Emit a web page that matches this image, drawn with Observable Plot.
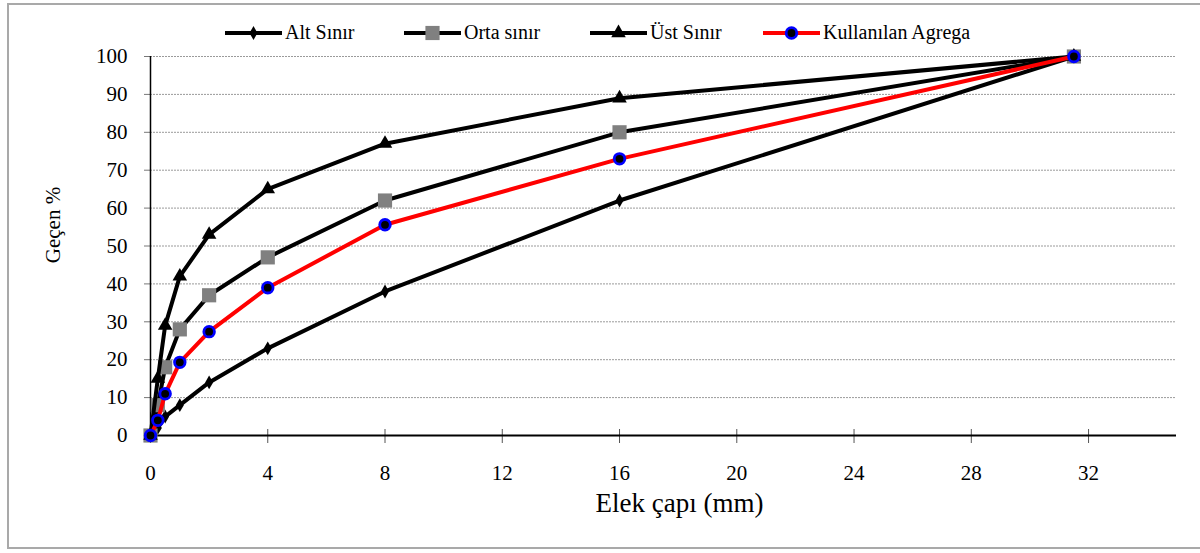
<!DOCTYPE html>
<html>
<head>
<meta charset="utf-8">
<script src="https://cdn.jsdelivr.net/npm/d3@7"></script>
<script src="https://cdn.jsdelivr.net/npm/@observablehq/plot@0.6"></script>
<style>
  html, body { margin: 0; padding: 0; background: #fff; overflow: hidden; }
  #wrap { position: relative; width: 1200px; height: 553px; }
  #wrap svg.chart { display: block; }
  #frame { position: absolute; left: 7px; top: 3px; width: 1200px; height: 546px;
           border: 2px solid #a9a9a9; pointer-events: none; box-sizing: border-box; }
  .leg { position: absolute; top: 20px; height: 25px; display: flex; align-items: center;
         font-family: "Liberation Serif", "Times New Roman", serif; font-size: 20px; color: #000; white-space: nowrap; }
  .leg span { margin-left: 3px; }
</style>
</head>
<body>
<div id="wrap"><div id="frame"></div></div>
<script>
// ---- data ----
const sieveSizes = [0, 0.25, 0.5, 1, 2, 4, 8, 16, 31.5];        // Elek çapı (mm)
const altSinir   = [0, 2, 5, 8, 14, 23, 38, 62, 100];
const ortaSinir  = [0, 8, 18, 28, 37, 47, 62, 80, 100];
const ustSinir   = [0, 15, 29, 42, 53, 65, 77, 89, 100];
const kullanilan = [0, 4, 11, 19.3, 27.4, 39, 55.6, 73, 100];
const seriesNames = ["Alt Sınır", "Orta sınır", "Üst Sınır", "Kullanılan Agrega"];
const xTicks = [0, 4, 8, 12, 16, 20, 24, 28, 32];
const yTicks = [0, 10, 20, 30, 40, 50, 60, 70, 80, 90, 100];
const xLabel = "Elek çapı (mm)";
const yLabel = "Geçen %";

// ---- styles per series ----
const styles = [
  {line: "#000", symbol: "diamond", r: 4.2, fill: "#000", stroke: "none", sw: 0},
  {line: "#000", symbol: "square", r: 8, fill: "#808080", stroke: "none", sw: 0},
  {line: "#000", symbol: "triangle", r: 5.4, fill: "#000", stroke: "none", sw: 0},
  {line: "#ff0000", symbol: "circle", r: 5.3, fill: "#000", stroke: "#0000ff", sw: 2.8}
];
const values = [altSinir, ortaSinir, ustSinir, kullanilan];
const tables = values.map((vals, s) => sieveSizes.map((x, i) => ({x, y: vals[i], series: seriesNames[s]})));

const seriesMarks = tables.flatMap((t, s) => [
  Plot.line(t, {x: "x", y: "y", stroke: styles[s].line, strokeWidth: 4, strokeLinejoin: "round"}),
  Plot.dot(t, {x: "x", y: "y", symbol: styles[s].symbol, r: styles[s].r, fill: styles[s].fill,
               stroke: styles[s].stroke, strokeWidth: styles[s].sw})
]);

const chart = Plot.plot({
  width: 1200, height: 553,
  marginLeft: 150, marginRight: 24, marginTop: 56, marginBottom: 118,
  x: {domain: [0, 35]},
  y: {domain: [0, 100]},
  style: {fontFamily: "'Liberation Serif', 'Times New Roman', serif", fontSize: "21px", color: "#000", background: "transparent", overflow: "visible"},
  marks: [
    Plot.gridY(yTicks.filter(d => d > 0), {stroke: "#9a9a9a", strokeOpacity: 1, strokeDasharray: "2,1", strokeWidth: 1}),
    Plot.axisY(yTicks, {tickSize: 6, tickPadding: 17, stroke: "#777", fill: "#000", fontSize: 21, label: null}),
    Plot.axisX(xTicks, {tickSize: 0, tickPadding: 30, fill: "#000", fontSize: 21, label: null}),
    Plot.ruleX(xTicks, {y1: 0, y2: 0, insetTop: -6, insetBottom: -8, stroke: "#555", strokeWidth: 1}),
    Plot.ruleX([0], {stroke: "#000", strokeWidth: 1.5}),
    Plot.ruleY([0], {stroke: "#000", strokeWidth: 2}),
    Plot.text([xLabel], {frameAnchor: "bottom", text: d => d, dx: 16, dy: 76, fontSize: 27, fill: "#000"}),
    Plot.text([yLabel], {frameAnchor: "left", text: d => d, textAnchor: "middle", rotate: -90, dx: -97, dy: -21, fontSize: 21, fill: "#000"}),
    ...seriesMarks
  ]
});
chart.classList.add("chart");
const wrap = document.getElementById("wrap");
wrap.insertBefore(chart, wrap.firstChild);

// ---- legend (HTML) ----
const legendLeft = [225, 404, 590, 763];
const symbolMap = {diamond: d3.symbolDiamond, square: d3.symbolSquare, triangle: d3.symbolTriangle, circle: d3.symbolCircle};
seriesNames.forEach((name, s) => {
  const st = styles[s];
  const div = document.createElement("div");
  div.className = "leg";
  div.style.left = legendLeft[s] + "px";
  const sw = d3.create("svg").attr("width", 57).attr("height", 20);
  sw.append("line").attr("x1", 0).attr("x2", 57).attr("y1", 10).attr("y2", 10)
    .attr("stroke", st.line).attr("stroke-width", 4);
  sw.append("path").attr("transform", "translate(28.5,10)")
    .attr("d", d3.symbol(symbolMap[st.symbol], Math.PI * st.r * st.r)())
    .attr("fill", st.fill).attr("stroke", st.stroke).attr("stroke-width", st.sw);
  div.appendChild(sw.node());
  const span = document.createElement("span");
  span.textContent = name;
  div.appendChild(span);
  wrap.appendChild(div);
});
</script>
</body>
</html>
